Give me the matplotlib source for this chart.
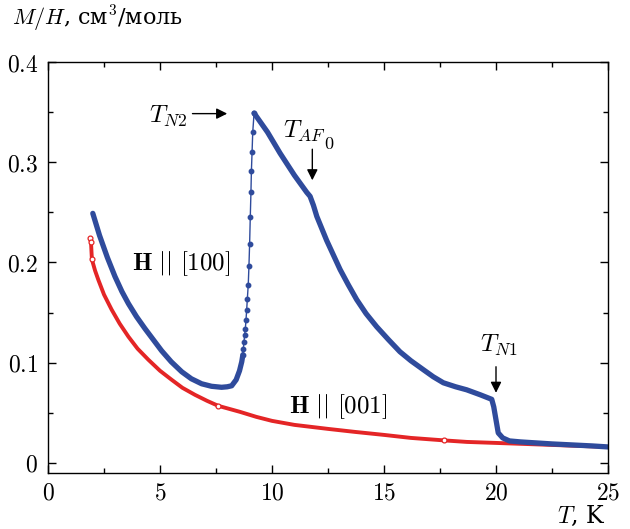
import matplotlib
matplotlib.use("Agg")
import matplotlib.pyplot as plt
from matplotlib.ticker import MultipleLocator, FuncFormatter

plt.rcParams["mathtext.fontset"] = "cm"
plt.rcParams["font.family"] = ["DejaVu Serif"]

# H || [100], ниже перехода (толстая часть)
blue_low_T = [2.0, 2.3, 2.65, 2.99, 3.3, 3.59, 3.95, 4.33, 4.7, 5.07, 5.5, 5.97, 6.4, 6.86, 7.3, 7.75,
              8.0, 8.2, 8.4, 8.55, 8.65, 8.7]
blue_low_M = [0.249, 0.227, 0.205, 0.186, 0.171, 0.159, 0.146, 0.134, 0.123, 0.112, 0.101, 0.091, 0.084,
              0.079, 0.0765, 0.0755, 0.076, 0.077, 0.083, 0.092, 0.101, 0.108]

# H || [100], резкий рост к T_N2 (редкие точки)
blue_rise_T = [8.7, 8.72, 8.75, 8.78, 8.81, 8.84, 8.87, 8.90, 8.94, 8.97, 9.00, 9.03, 9.06, 9.08, 9.11, 9.14, 9.20]
blue_rise_M = [0.108, 0.114, 0.121, 0.128, 0.134, 0.143, 0.153, 0.164, 0.178, 0.196, 0.218, 0.245, 0.270, 0.291,
               0.310, 0.330, 0.349]

# H || [100], выше T_N2
blue_high_T = [9.2, 9.8, 10.36, 11.0, 11.55, 11.7, 11.85, 12.0, 12.44, 13.04, 13.4, 13.78, 14.2, 14.67, 15.2,
               15.71, 16.2, 16.76, 17.2, 17.65, 18.2, 18.69, 19.3, 19.81, 19.9, 20.0, 20.1, 20.3, 20.6, 21.1,
               22.5, 24.3, 25.0]
blue_high_M = [0.349, 0.330, 0.309, 0.287, 0.270, 0.266, 0.257, 0.246, 0.222, 0.193, 0.178, 0.163, 0.149, 0.136,
               0.123, 0.111, 0.102, 0.093, 0.086, 0.080, 0.076, 0.073, 0.068, 0.0635, 0.056, 0.043, 0.030,
               0.025, 0.022, 0.021, 0.019, 0.017, 0.016]

# H || [001]
red_T = [1.88, 1.92, 1.96, 2.1, 2.25, 2.5, 2.84, 3.2, 3.59, 4.0, 4.48, 5.0, 5.52, 6.0, 6.56, 7.1, 7.6,
         8.57, 9.3, 10.0, 11.0, 12.5, 13.7, 15.0, 16.2, 17.7, 18.7, 20.0, 22.5, 25.0]
red_M = [0.224, 0.220, 0.203, 0.192, 0.1825, 0.168, 0.153, 0.139, 0.126, 0.114, 0.103, 0.092, 0.083, 0.075,
         0.068, 0.062, 0.057, 0.051, 0.046, 0.042, 0.038, 0.034, 0.031, 0.028, 0.025, 0.0225, 0.021, 0.020,
         0.018, 0.016]

blue = "#2F4B9C"
red = "#E42526"

fig = plt.figure(figsize=(6.3, 5.29), dpi=100)
ax = fig.add_axes([48 / 630, 1 - 473 / 529, 560 / 630, 411 / 529])

ax.plot(red_T, red_M, color=red, lw=2.8, solid_capstyle="round", solid_joinstyle="round")
ax.plot(red_T[:3], red_M[:3], color=red, lw=0.9)
ax.plot(red_T, red_M, ls="none", marker="o", ms=3.5, mfc="white", mec=red, mew=0.9,
        markevery=[0, 1, 2, 16, 25])

ax.plot(blue_low_T, blue_low_M, color=blue, lw=3.8, solid_capstyle="round", solid_joinstyle="round")
ax.plot(blue_rise_T, blue_rise_M, color=blue, lw=1.0, marker="o", ms=3.2)
ax.plot(blue_high_T, blue_high_M, color=blue, lw=3.8, solid_capstyle="round", solid_joinstyle="round")

ax.set_xlim(0, 25)
ax.set_ylim(-0.01, 0.4)
ax.xaxis.set_major_locator(MultipleLocator(5))
ax.xaxis.set_minor_locator(MultipleLocator(2.5))
ax.yaxis.set_major_locator(MultipleLocator(0.1))
ax.yaxis.set_minor_locator(MultipleLocator(0.05))
ax.xaxis.set_major_formatter(FuncFormatter(lambda v, p: f"${v:g}$"))
ax.yaxis.set_major_formatter(FuncFormatter(lambda v, p: f"${v:.1f}$" if abs(v) > 1e-9 else "$0$"))
ax.tick_params(which="both", direction="in", top=True, right=True, width=1.0, labelsize=17)
ax.tick_params(which="major", length=6)
ax.tick_params(which="minor", length=3.5)
ax.tick_params(axis="y", pad=7)
ax.tick_params(axis="x", pad=6)
for s in ax.spines.values():
    s.set_linewidth(1.0)

arr = dict(arrowstyle="-|>", color="black", lw=1.0, mutation_scale=16, shrinkA=0, shrinkB=0)
ax.annotate("", xy=(8.0, 0.3485), xytext=(6.45, 0.3485), arrowprops=arr)
ax.text(5.38, 0.346, r"$T_{N2}$", fontsize=18, ha="center", va="center")
ax.annotate("", xy=(11.8, 0.282), xytext=(11.8, 0.313), arrowprops=arr)
ax.text(12.42, 0.331, r"$T_{AF}$", fontsize=18, ha="right", va="center")
ax.text(12.30, 0.318, r"$0$", fontsize=13, ha="left", va="center")
ax.annotate("", xy=(20.0, 0.070), xytext=(20.0, 0.096), arrowprops=arr)
ax.text(20.15, 0.117, r"$T_{N1}$", fontsize=18, ha="center", va="center")

ax.text(5.96, 0.1985, r"$\mathbf{H}\ ||\ [100]$", fontsize=18, ha="center", va="center")
ax.text(12.95, 0.056, r"$\mathbf{H}\ ||\ [001]$", fontsize=18, ha="center", va="center")

fig.text(12 / 630, 1 - 19 / 529, r"$M/H$, см$^3$/моль", fontsize=16, ha="left", va="center")
fig.text(606 / 630, 1 - 516 / 529, r"$T$, K", fontsize=17, ha="right", va="center")

fig.savefig("out.png", dpi=100)
